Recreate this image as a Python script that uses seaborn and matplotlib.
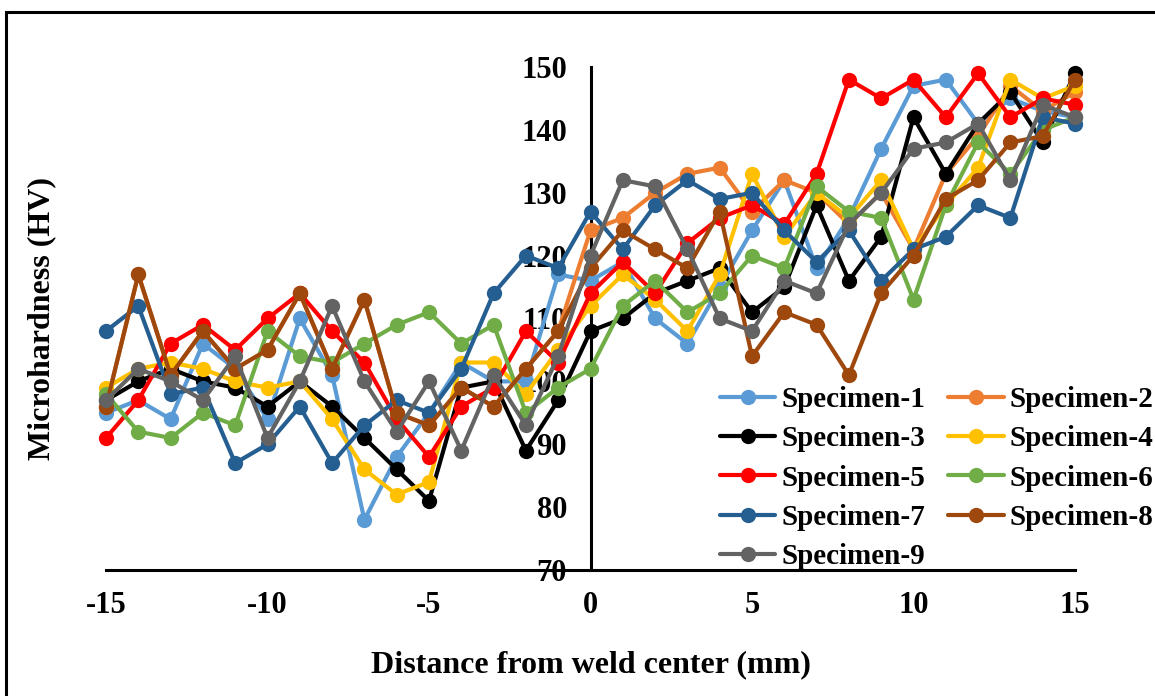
import numpy as np
import pandas as pd
import matplotlib
matplotlib.use('Agg')
import matplotlib.pyplot as plt
from matplotlib.lines import Line2D
from matplotlib.patches import Rectangle
import seaborn as sns

# distance from weld center (mm)
distance = [-15, -14, -13, -12, -11, -10, -9, -8, -7, -6, -5, -4, -3, -2, -1, 0,
            1, 2, 3, 4, 5, 6, 7, 8, 9, 10, 11, 12, 13, 14, 15]

spec1 = [95, 97, 94, 106, 102, 94, 110, 101, 78, 88, 95, 103, 100, 100, 117, 116,
         119, 110, 106, 115, 124, 132, 118, 126, 137, 147, 148, 141, 145, 143, 142]
spec2 = [96, 117, 101, 108, 102, 105, 114, 102, 113, 95, 93, 99, 96, 102, 108, 124,
         126, 130, 133, 134, 127, 132, 130, 125, 130, 121, 133, 139, 147, 143, 146]
spec3 = [97, 100, 102, 100, 99, 96, 100, 96, 91, 86, 81, 99, 100, 89, 97, 108,
         110, 114, 116, 118, 111, 115, 128, 116, 123, 142, 133, 141, 146, 138, 149]
spec4 = [99, 102, 103, 102, 100, 99, 100, 94, 86, 82, 84, 103, 103, 98, 105, 112,
         117, 113, 108, 117, 133, 123, 130, 126, 132, 121, 128, 134, 148, 145, 147]
spec5 = [91, 97, 106, 109, 105, 110, 114, 108, 103, 94, 88, 96, 99, 108, 103, 114,
         119, 114, 122, 126, 128, 125, 133, 148, 145, 148, 142, 149, 142, 145, 144]
spec6 = [98, 92, 91, 95, 93, 108, 104, 103, 106, 109, 111, 106, 109, 95, 99, 102,
         112, 116, 111, 114, 120, 118, 131, 127, 126, 113, 128, 138, 133, 140, 142]
spec7 = [108, 112, 98, 99, 87, 90, 96, 87, 93, 97, 95, 102, 114, 120, 118, 127,
         121, 128, 132, 129, 130, 124, 119, 124, 116, 121, 123, 128, 126, 142, 141]
spec8 = [96, 117, 101, 108, 102, 105, 114, 102, 113, 95, 93, 99, 96, 102, 108, 118,
         124, 121, 118, 127, 104, 111, 109, 101, 114, 120, 129, 132, 138, 139, 148]
spec9 = [97, 102, 100, 97, 104, 91, 100, 112, 100, 92, 100, 89, 101, 93, 104, 120,
         132, 131, 121, 110, 108, 116, 114, 125, 130, 137, 138, 141, 132, 144, 142]

names = ['Specimen-1', 'Specimen-2', 'Specimen-3', 'Specimen-4', 'Specimen-5',
         'Specimen-6', 'Specimen-7', 'Specimen-8', 'Specimen-9']
series = [spec1, spec2, spec3, spec4, spec5, spec6, spec7, spec8, spec9]
colors = ['#5B9BD5', '#ED7D31', '#000000', '#FFC000', '#FF0000',
          '#70AD47', '#255E91', '#9E480E', '#636363']

rows = []
for name, vals in zip(names, series):
    for d, v in zip(distance, vals):
        rows.append((name, d, v))
df = pd.DataFrame(rows, columns=['Specimen', 'Distance', 'HV'])

sns.set_style('white')
plt.rcParams['font.family'] = ['Liberation Serif', 'DejaVu Serif']
plt.rcParams['font.weight'] = 'bold'
plt.rcParams['axes.unicode_minus'] = False
plt.rcParams['text.color'] = 'black'
plt.rcParams['axes.labelcolor'] = 'black'
plt.rcParams['xtick.color'] = 'black'
plt.rcParams['ytick.color'] = 'black'

fig = plt.figure(figsize=(11.55, 6.96), dpi=100)
ax = fig.add_axes([106/1155, 1-570/696, 969/1155, 503/696])
sns.lineplot(data=df, x='Distance', y='HV', hue='Specimen', palette=colors,
             marker='o', markersize=11, markeredgewidth=0, linewidth=3,
             errorbar=None, sort=False, legend=False, clip_on=False, ax=ax)

ax.spines['left'].set_position(('data', 0))
ax.spines['right'].set_visible(False)
ax.spines['top'].set_visible(False)
for s in ['left', 'bottom']:
    ax.spines[s].set_linewidth(2.2)
    ax.spines[s].set_color('black')
    ax.spines[s].set_zorder(0)

ax.set_xlim(-15, 15)
ax.set_ylim(70, 150)
ax.set_xticks(range(-15, 16, 5))
ax.set_yticks(range(70, 151, 10))
ax.tick_params(axis='x', length=0, labelsize=22, pad=15, labelcolor='black')
ax.tick_params(axis='y', length=0, labelsize=22, pad=17, labelcolor='black')
for lab in ax.get_xticklabels() + ax.get_yticklabels():
    lab.set_fontweight('bold')

ax.set_xlabel('Distance from weld center (mm)', fontsize=23, fontweight='bold', color='black')
ax.set_ylabel('Microhardness (HV)', fontsize=23, fontweight='bold', color='black')
ax.xaxis.set_label_coords(0.5, -0.16)
ax.yaxis.set_label_coords(-0.051, 0.5)

handles = [Line2D([0], [0], color=c, marker='o', markersize=11, markeredgewidth=0, linewidth=3)
           for c in colors]
order = [0, 2, 4, 6, 8, 1, 3, 5, 7]
leg = ax.legend([handles[i] for i in order], [names[i] for i in order],
                loc='upper left', bbox_to_anchor=(720/1155, 1-386/696),
                bbox_transform=fig.transFigure, ncol=2, frameon=False,
                prop={'weight': 'bold', 'size': 21}, handlelength=1.9,
                handletextpad=0.2, columnspacing=0.8, labelspacing=0.42,
                borderaxespad=0, borderpad=0)
for t in leg.get_texts():
    t.set_color('black')

# outer frame (cropped on the right and bottom in the original)
fig.add_artist(Rectangle((6/1155, -0.05), 1.1, 1-12/696+0.05, transform=fig.transFigure,
                         fill=False, edgecolor='black', linewidth=2.2))

fig.savefig('out.png', dpi=100)
